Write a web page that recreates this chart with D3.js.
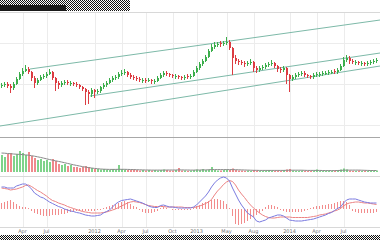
<!DOCTYPE html>
<html>
<head>
<meta charset="utf-8">
<script src="https://cdn.jsdelivr.net/npm/d3@7"></script>
<style>
body { margin: 0; background: #fff; }
svg { display: block; }
</style>
</head>
<body>
<div id="chart"></div>
<script>
// weekly candles, values

var openP = [11.4,11.5,11.6,11.4,11.2,11.6,12.1,12.6,12.9,13.1, 12.8,12.2,11.7,12.0,12.3,12.4,12.6,12.8,12.2,11.7,
  11.5,11.7,11.8,11.6,11.7,11.6,11.5,11.3,11.1,10.8, 10.6,11.0,10.8,10.9,11.3,11.5,11.7,12.0,12.2,12.3,
  12.6,12.7,12.8,12.5,12.3,12.2,12.1,11.9,12.0,11.9, 12.0,11.8,11.9,12.2,12.5,12.7,12.6,12.5,12.3,12.4,
  12.3,12.2,12.4,12.3,12.4,12.8,13.2,13.6,13.9,14.3, 14.9,15.3,15.5,15.7,15.6,15.7,15.8,15.2,14.2,13.9,
  13.8,13.7,13.6,13.7,13.8,13.2,13.0,13.2,13.3,13.5, 13.6,13.7,13.4,13.1,13.0,13.2,12.5,12.1,12.3,12.5,
  12.6,12.7,12.5,12.4,12.3,12.5,12.5,12.6,12.6,12.7, 12.7,12.9,12.8,13.0,13.4,14.0,14.2,13.9,13.7,13.8,
  13.6,13.7,13.6,13.7,13.8,13.9];
var highP = [11.7,11.8,11.8,11.6,11.8,12.3,12.8,13.2,13.5,13.3, 12.9,12.4,12.2,12.5,12.6,12.8,13.1,12.9,12.3,11.9,
  11.9,12.0,12.0,11.9,11.8,11.8,11.6,11.4,11.2,11.0, 11.2,11.1,11.1,11.4,11.7,11.9,12.2,12.4,12.5,12.8,
  13.0,13.1,12.9,12.7,12.5,12.4,12.3,12.2,12.2,12.2, 12.1,12.1,12.4,12.7,12.9,12.9,12.7,12.6,12.6,12.5,
  12.4,12.5,12.6,12.6,13.0,13.4,13.8,14.1,14.5,15.1, 15.6,15.8,15.8,15.9,15.9,16.3,16.0,15.3,14.5,14.1,
  14.0,13.9,13.9,14.1,13.9,13.4,13.4,13.5,13.7,13.8, 14.0,13.8,13.5,13.3,13.4,13.3,12.6,12.5,12.7,12.8,
  12.9,12.9,12.6,12.5,12.7,12.8,12.8,12.9,12.9,13.0, 13.0,13.1,13.2,13.6,14.3,14.5,14.4,14.1,14.0,13.9,
  13.9,13.8,13.9,14.0,14.1,14.2];
var lowP = [11.2,11.3,11.2,10.7,11.0,11.5,12.0,12.4,12.8,12.6, 11.9,11.2,11.5,11.9,12.1,12.2,12.5,12.0,10.9,11.1,
  11.3,11.5,11.5,11.4,11.4,11.3,11.1,10.9,9.5,9.6, 10.3,10.2,10.6,10.7,11.1,11.3,11.6,11.8,12.0,12.1,
  12.4,12.5,12.3,12.1,12.0,11.9,11.8,11.7,11.7,11.8, 11.6,11.6,11.8,12.1,12.3,12.4,12.3,12.2,12.1,12.1,
  12.0,12.0,12.1,12.1,12.3,12.7,13.0,13.4,13.8,14.2, 14.8,15.1,15.3,15.3,15.4,15.5,15.0,12.5,13.6,13.5,
  13.5,13.3,13.4,13.5,12.8,12.7,12.8,13.0,13.1,13.3, 13.4,13.2,12.8,12.7,12.8,11.6,10.8,11.9,12.1,12.3,
  12.4,12.3,12.2,12.1,12.1,12.3,12.3,12.4,12.5,12.5, 12.6,12.6,12.6,12.9,13.3,13.8,13.6,13.6,13.5,13.5,
  13.4,13.4,13.4,13.5,13.6,13.7];
var closeP = [11.5,11.6,11.4,11.2,11.6,12.1,12.6,12.9,13.1,12.8, 12.2,11.7,12.0,12.3,12.4,12.6,12.8,12.2,11.7,11.5,
  11.7,11.8,11.7,11.7,11.6,11.5,11.3,11.1,10.8,10.6, 11.0,10.8,10.9,11.3,11.5,11.7,12.0,12.2,12.3,12.6,
  12.7,12.8,12.5,12.3,12.2,12.1,12.0,12.0,11.9,12.0, 11.9,11.9,12.2,12.5,12.7,12.6,12.5,12.4,12.4,12.3,
  12.2,12.3,12.3,12.4,12.8,13.2,13.6,13.9,14.3,14.9, 15.3,15.5,15.6,15.6,15.7,15.8,15.2,14.2,13.9,13.8,
  13.7,13.6,13.7,13.8,13.2,13.0,13.2,13.3,13.5,13.6, 13.7,13.4,13.1,13.0,13.2,12.5,12.1,12.3,12.5,12.6,
  12.7,12.5,12.4,12.3,12.5,12.6,12.6,12.7,12.7,12.8, 12.8,12.8,13.0,13.4,14.0,14.2,13.9,13.8,13.8,13.7,
  13.7,13.6,13.7,13.8,13.9,14.0];

var volume = [17,15,18,19,16,18,21,19,17,20, 16,14,12,13,11,12,10,13,11,8,
  7,8,6,7,5,5,4,5,6,5, 4,3,3,2.5,3,2.5,2,3,2.5,7,
  3,2.5,2,2,2.5,2,1.5,2,1.5,2, 1.5,2,1.5,2,2.5,2,1.5,1.5,2,4,
  1.5,1.5,1.2,1.5,2,2.5,2,3,2,2.5, 5,2,1.5,1.5,2,2.5,2,3.5,2,1.5,
  1.5,1.2,1.5,1.2,2,1.5,1.2,1.2,1.5,2, 1.5,1.2,1.5,1.2,2,2.5,3,1.5,1.2,1.2,
  1.5,1.2,1,1.2,1.5,2.5,1.2,1,1.2,1.5, 1.2,1.5,1.8,2.5,3.5,2.5,1.5,1.2,1.2,1.5,
  1.2,1.5,1.2,1.8,1.5,1.5];
var volumeMA = [19,18.8,18.5,18.3,18,17.8,17.6,17.4,17.1,16.8, 16.3,15.8,15.2,14.6,13.9,13.2,12.5,11.8,11.2,10.6,
  10,9.3,8.6,7.9,7.2,6.6,6,5.4,4.9,4.4, 4,3.6,3.3,3,2.8,2.7,2.6,2.6,2.6,2.7,
  2.7,2.7,2.6,2.5,2.4,2.3,2.2,2.1,2,2, 1.9,1.9,1.9,1.9,1.9,2,2,2,2,2.1,
  2.1,2,2,1.9,1.9,2,2,2.1,2.1,2.2, 2.4,2.4,2.4,2.4,2.4,2.4,2.4,2.4,2.3,2.2,
  2.1,2,1.9,1.8,1.7,1.7,1.6,1.6,1.6,1.6, 1.6,1.6,1.6,1.6,1.6,1.7,1.8,1.8,1.8,1.8,
  1.8,1.7,1.6,1.6,1.6,1.6,1.6,1.5,1.4,1.4, 1.4,1.4,1.5,1.6,1.8,1.9,1.9,1.9,1.9,1.9,
  1.8,1.7,1.6,1.5,1.5,1.5];

var dif = [2.2,2.2,2.1,2.1,2.1,2.3,2.4,2.5,2.5,2.3, 2.0,1.6,1.4,1.2,1.1,0.9,0.7,0.55,0.4,0.25,
  0.15,0,-0.1,-0.2,-0.25,-0.35,-0.4,-0.5,-0.6,-0.65, -0.7,-0.7,-0.65,-0.6,-0.4,-0.25,-0.1,0.2,0.5,0.7,
  0.85,0.9,0.95,1.0,0.9,0.8,0.7,0.6,0.45,0.3, 0.2,0.15,0.15,0.35,0.4,0.3,0.2,0.2,0.15,0.1,
  0.1,0.1,0.1,0.1,0.2,0.4,0.7,1.0,1.3,1.7, 2.2,2.6,2.9,3.1,3.2,3.1,2.8,2.1,1.5,0.9,
  0.4,0,-0.4,-0.6,-0.8,-1.2,-1.3,-1.2,-1.1,-0.9, -0.8,-0.7,-0.6,-0.6,-0.7,-0.9,-1.1,-1.15,-1.2,-1.2,
  -1.2,-1.15,-1.1,-1.05,-1.0,-0.9,-0.8,-0.7,-0.6,-0.45, -0.35,-0.15,0.05,0.2,0.6,0.9,1.0,1.0,1.0,0.9,
  0.8,0.7,0.65,0.6,0.6,0.6];
var dea = [2.1,2.05,2.0,1.9,1.95,2.0,2.1,2.2,2.35,2.4, 2.25,2.05,1.85,1.7,1.5,1.3,1.05,0.85,0.75,0.6,
  0.5,0.4,0.25,0.15,0.05,-0.05,-0.15,-0.25,-0.3,-0.35, -0.4,-0.4,-0.4,-0.4,-0.35,-0.3,-0.2,-0.1,0,0.15,
  0.3,0.45,0.6,0.7,0.75,0.7,0.65,0.55,0.45,0.35, 0.3,0.25,0.25,0.25,0.25,0.2,0.2,0.2,0.2,0.2,
  0.2,0.15,0.15,0.15,0.15,0.2,0.3,0.4,0.55,0.7, 0.95,1.4,1.8,2.1,2.45,2.7,2.85,2.75,2.4,1.9,
  1.5,1.15,0.75,0.4,0.1,-0.15,-0.4,-0.6,-0.75,-0.85, -0.9,-0.9,-0.85,-0.8,-0.8,-0.8,-0.8,-0.85,-0.85,-0.85,
  -0.85,-0.85,-0.85,-0.8,-0.75,-0.7,-0.6,-0.55,-0.5,-0.4, -0.3,-0.2,-0.1,0.05,0.3,0.5,0.6,0.65,0.7,0.7,
  0.65,0.6,0.6,0.55,0.5,0.45];
var macdHist = [0.6,0.7,0.8,0.9,0.7,0.5,0.3,0.2,0.2,0.1, -0.2,-0.4,-0.5,-0.6,-0.7,-0.7,-0.7,-0.6,-0.6,-0.6,
  -0.5,-0.5,-0.4,-0.3,-0.3,-0.2,-0.2,-0.2,-0.2,-0.2, -0.2,-0.2,-0.1,-0.1,0.1,0.2,0.3,0.4,0.5,0.6,
  0.7,0.8,0.7,0.5,0.3,0.2,-0.1,-0.3,-0.4,-0.4, -0.4,-0.3,-0.2,0.1,0.2,0.1,0,-0.1,-0.1,-0.1,
  -0.1,-0.1,-0.1,-0.1,0.1,0.3,0.4,0.6,0.7,0.8, 0.9,1.0,1.0,0.9,0.8,0.5,0.1,-0.7,-1.5,-1.6,
  -1.5,-1.4,-1.2,-1.0,-0.8,-0.6,-0.4,-0.2,0.2,0.4, 0.4,0.3,0.2,-0.1,-0.2,-0.3,-0.3,-0.3,-0.3,-0.3,
  -0.3,-0.2,-0.1,0.1,0.2,0.3,0.3,0.4,0.4,0.5, 0.5,0.6,0.7,0.8,0.8,0.7,0.4,-0.2,-0.3,-0.4,
  -0.4,-0.4,-0.4,-0.4,-0.4,-0.3];

var tickIdx = [7, 15, 31, 40, 48, 57, 65, 75, 84, 96, 105, 114];
var tickLabels = ["Apr", "Jul", "2012", "Apr", "Jul", "Oct", "2013", "May", "Aug", "2014", "Apr", "Jul"];
var priceGrid = [7.5, 11.6, 15.7];
// channel lines: [bar index, price] end points
var channelLines = [
  [[9.5, 13.1], [126.2, 18.0]],
  [[29.5, 10.4], [126.2, 14.7]],
  [[-0.5, 7.4], [126.2, 13.4]]
];

var width = 380, height = 240;
var upColor = "#3cae4c", downColor = "#dc3c42";

var svg = d3.select("#chart").append("svg")
    .attr("width", width)
    .attr("height", height);

var defs = svg.append("defs");
var pat = defs.append("pattern").attr("id", "dither")
    .attr("width", 2).attr("height", 2)
    .attr("patternUnits", "userSpaceOnUse");
pat.append("rect").attr("width", 2).attr("height", 2).attr("fill", "#fff");
pat.append("rect").attr("width", 1).attr("height", 1).attr("fill", "#111");
pat.append("rect").attr("x", 1).attr("y", 1).attr("width", 1).attr("height", 1).attr("fill", "#111");
defs.append("clipPath").attr("id", "priceClip")
    .append("rect").attr("x", 0).attr("y", 12).attr("width", width).attr("height", 125);

var x = d3.scaleLinear().domain([0, 125]).range([1.5, 376.5]);
var yPrice = d3.scaleLinear().domain([6.3, 18.8]).range([137, 12]);
var yVol = d3.scaleLinear().domain([0, 34]).range([172, 138]);
var yMacd = d3.scaleLinear().domain([-1.8, 3.2]).range([227, 177]);

var bars = d3.range(closeP.length).map(function(i) {
    return {i: i, o: openP[i], h: highP[i], l: lowP[i], c: closeP[i], v: volume[i],
            up: closeP[i] >= openP[i]};
});

// header / footer noise strips
svg.append("rect").attr("x", 0).attr("y", 0).attr("width", 130).attr("height", 5).attr("fill", "url(#dither)");
svg.append("rect").attr("x", 0).attr("y", 5).attr("width", 66).attr("height", 6).attr("fill", "#1a1a1a");
svg.append("rect").attr("x", 66).attr("y", 5).attr("width", 64).attr("height", 6).attr("fill", "url(#dither)");
svg.append("rect").attr("x", 0).attr("y", 235).attr("width", width).attr("height", 5).attr("fill", "url(#dither)");

// grid
svg.append("g").selectAll("line").data(tickIdx).enter().append("line")
    .attr("x1", function(d) { return Math.round(x(d)) + 0.5; })
    .attr("x2", function(d) { return Math.round(x(d)) + 0.5; })
    .attr("y1", 12).attr("y2", 227)
    .attr("stroke", "#ececec");
svg.append("g").selectAll("line").data(priceGrid).enter().append("line")
    .attr("x1", 0).attr("x2", width)
    .attr("y1", function(d) { return Math.round(yPrice(d)) + 0.5; })
    .attr("y2", function(d) { return Math.round(yPrice(d)) + 0.5; })
    .attr("stroke", "#ececec");

// panel borders
[12.5, 137.5, 176.5, 227.5].forEach(function(yy, k) {
    svg.append("line").attr("x1", 0).attr("x2", width).attr("y1", yy).attr("y2", yy)
        .attr("stroke", k == 1 ? "#a8a8a8" : "#d8d8d8");
});

// channel lines
var pricePanel = svg.append("g").attr("clip-path", "url(#priceClip)");
var line = d3.line()
    .x(function(d) { return x(d[0]); })
    .y(function(d) { return yPrice(d[1]); });
pricePanel.selectAll(".channel").data(channelLines).enter().append("path")
    .attr("class", "channel")
    .attr("d", line)
    .attr("fill", "none")
    .attr("stroke", "#7db9a8")
    .attr("stroke-width", 1);

// candles
var candle = pricePanel.selectAll(".candle").data(bars).enter().append("g").attr("class", "candle");
candle.append("line")
    .attr("x1", function(d) { return x(d.i); })
    .attr("x2", function(d) { return x(d.i); })
    .attr("y1", function(d) { return yPrice(d.h); })
    .attr("y2", function(d) { return yPrice(d.l); })
    .attr("stroke", function(d) { return d.up ? upColor : downColor; });
candle.append("rect")
    .attr("x", function(d) { return x(d.i) - 0.5; })
    .attr("width", 2)
    .attr("y", function(d) { return yPrice(Math.max(d.o, d.c)); })
    .attr("height", function(d) { return Math.max(1, Math.abs(yPrice(d.o) - yPrice(d.c))); })
    .attr("fill", function(d) { return d.up ? upColor : downColor; });

// volume
svg.append("g").selectAll("rect").data(bars).enter().append("rect")
    .attr("x", function(d) { return x(d.i) - 0.5; })
    .attr("width", 2)
    .attr("y", function(d) { return yVol(d.v); })
    .attr("height", function(d) { return yVol(0) - yVol(d.v); })
    .attr("fill", function(d) { return d.up ? "#7ed38a" : "#ef8a8c"; });
svg.append("path")
    .datum(volumeMA)
    .attr("d", d3.line().x(function(d, i) { return x(i); }).y(function(d) { return yVol(d); }))
    .attr("fill", "none")
    .attr("stroke", "#8a8a8a")
    .attr("stroke-width", 1);

// macd
svg.append("g").selectAll("line").data(macdHist).enter().append("line")
    .attr("x1", function(d, i) { return x(i); })
    .attr("x2", function(d, i) { return x(i); })
    .attr("y1", yMacd(0))
    .attr("y2", function(d) { return yMacd(d); })
    .attr("stroke", "#f28c8c");
svg.append("path")
    .datum(dea)
    .attr("d", d3.line().x(function(d, i) { return x(i); }).y(function(d) { return yMacd(d); }))
    .attr("fill", "none")
    .attr("stroke", "#ec8484")
    .attr("stroke-width", 1);
svg.append("path")
    .datum(dif)
    .attr("d", d3.line().x(function(d, i) { return x(i); }).y(function(d) { return yMacd(d); }))
    .attr("fill", "none")
    .attr("stroke", "#7b7be0")
    .attr("stroke-width", 1);

// x labels
svg.append("g").selectAll("text").data(tickIdx).enter().append("text")
    .attr("x", function(d) { return x(d); })
    .attr("y", 233)
    .attr("text-anchor", "middle")
    .attr("font-family", "DejaVu Sans, sans-serif")
    .attr("font-size", 5)
    .attr("fill", "#777")
    .text(function(d, k) { return tickLabels[k]; });
</script>
</body>
</html>
